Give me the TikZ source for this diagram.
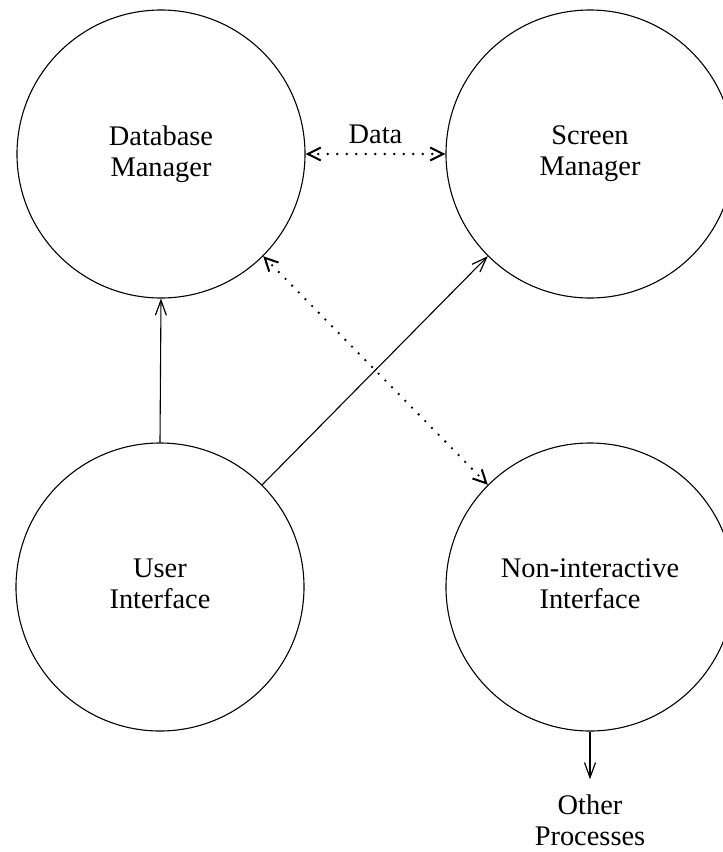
\documentclass[tikz,border=0pt]{standalone}
\usepackage{fontspec}
\setmainfont{Liberation Serif}
\usetikzlibrary{arrows.meta}
\begin{document}
\begin{tikzpicture}[x=1pt,y=-1pt,
  proc/.style={draw,circle,minimum size=288pt,inner sep=0pt,align=center,line width=1.1pt,
    font=\fontsize{28.4}{31}\selectfont},
  lbl/.style={align=center,font=\fontsize{28.4}{31}\selectfont},
  flow/.style={line width=1.1pt,-{Straight Barb[length=15pt,width=11pt,line width=1.2pt]}},
  dataflow/.style={line width=2.6pt,line cap=round,dash pattern=on 0pt off 9.5pt,
    {Straight Barb[length=13pt,width=13pt,line width=2pt]}-{Straight Barb[length=13pt,width=13pt,line width=2pt]}}
]
\useasboundingbox (0,0) rectangle (723,852);
\node[proc] (db) at (161,154) {Database\\Manager};
\node[proc] (sm) at (590,154) {Screen\\Manager};
\node[proc] (ui) at (160,587) {\raisebox{4pt}{\begin{tabular}{@{}c@{}}User\\Interface\end{tabular}}};
\node[proc] (ni) at (590,587) {\raisebox{4pt}{\begin{tabular}{@{}c@{}}Non-interactive\\Interface\end{tabular}}};
\node[lbl,inner xsep=0pt,inner ysep=15pt] (other) at (590,820) {Other\\Processes};

\draw[dataflow] (db.east) -- node[lbl,above,inner sep=9pt] (data) {Data} (sm.west);
\draw[dataflow] (db.-45) -- (ni.135);
\draw[flow] (ui.north) -- (db.south);
\draw[flow] (ui.45) -- (sm.-135);
\draw[flow] (ni.south) -- (other.north);
\end{tikzpicture}
\end{document}
